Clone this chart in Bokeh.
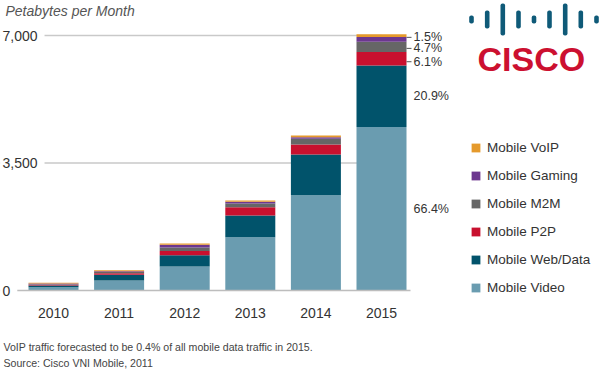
from bokeh.plotting import figure
from bokeh.models import (Range1d, Legend, LegendItem, Label,
                          BoxAnnotation, ColumnDataSource)
from bokeh.core.properties import value
from bokeh.embed import file_html
from bokeh.resources import INLINE

# ---------------- data ----------------
years = [2010, 2011, 2012, 2013, 2014, 2015]
mobile_video = [91, 275, 660, 1464, 2616, 4485]
mobile_web_data = [46, 156, 311, 595, 1117, 1694]
mobile_p2p = [22, 45, 110, 229, 275, 366]
mobile_m2m = [15, 30, 101, 100, 156, 285]
mobile_gaming = [18, 25, 73, 46, 46, 128]
mobile_voip = [20, 27, 37, 37, 46, 73]
series_names = ["Mobile Video", "Mobile Web/Data", "Mobile P2P",
                "Mobile M2M", "Mobile Gaming", "Mobile VoIP"]
share_2015 = ["66.4%", "20.9%", "6.1%", "4.7%", "1.5%", ""]
y_ticks = [0, 3500, 7000]

# ---------------- styles / layout ----------------
colors = ["#6A9CB0", "#01536B", "#C8102E", "#666666", "#6C378F", "#E59A2C"]
FONT = "Liberation Sans"
W, H = 600, 369
BASE_PX = 290              # canvas row of y = 0
TOP_PX = 35                # canvas row of y = 7000
K = (BASE_PX - TOP_PX) / 7000.0
PX_YEAR = 65.6
FIRST_X_PX = 53
y_start = -(H - BASE_PX) / K
y_end = 7000 + TOP_PX / K
x_start = years[0] - FIRST_X_PX / PX_YEAR
x_end = x_start + W / PX_YEAR
bar_w = 50 / PX_YEAR
label_nudge = [0, 0, -82, -41, 55, 0]   # data-unit nudges to keep small labels apart

p = figure(width=W, height=H, title=None,
           x_range=Range1d(x_start, x_end), y_range=Range1d(y_start, y_end),
           output_backend="svg", toolbar_location=None,
           x_axis_location=None, y_axis_location=None, min_border=0)
p.outline_line_color = None
p.grid.visible = False
p.background_fill_color = "white"

# gridlines
grid_vals = [v for v in y_ticks if v != 0]
p.segment(x0=[x_start] * len(grid_vals), x1=[years[-1]] * len(grid_vals),
          y0=grid_vals, y1=grid_vals, line_color="#C9C9C9", line_width=1.5)

# stacked bars
src = ColumnDataSource(dict(years=years, video=mobile_video, web=mobile_web_data,
                            p2p=mobile_p2p, m2m=mobile_m2m, gaming=mobile_gaming,
                            voip=mobile_voip))
keys = ["video", "web", "p2p", "m2m", "gaming", "voip"]
rends = p.vbar_stack(keys, x="years", width=bar_w, source=src,
                     color=colors, line_color=None)

# baseline
p.segment(x0=[x_start], x1=[years[-1] + bar_w / 2 + 4 / PX_YEAR], y0=[0], y1=[0],
          line_color="#BDBDBD", line_width=1.5)

# year labels
p.text(x=years, y=[0] * len(years), text=[str(y) for y in years], y_offset=22,
       text_align="center", text_baseline="middle", text_font=value(FONT),
       text_font_size="14px", text_color="#333333")

# y tick labels (white box hides the gridline start)
PAD = 7
for v in y_ticks:
    p.add_layout(Label(x=2 - PAD, y=v, x_units="screen", y_units="data",
                       text=f"{v:,}", text_font=FONT, text_font_size="14px",
                       text_color="#333333", text_baseline="middle",
                       text_align="left", background_fill_color="white",
                       padding=PAD))

# share labels for 2015
vals_2015 = [s[-1] for s in [mobile_video, mobile_web_data, mobile_p2p,
                             mobile_m2m, mobile_gaming, mobile_voip]]
mids = []
acc = 0
for v in vals_2015:
    mids.append(acc + v / 2)
    acc += v
lab_y = [m + n for m, n in zip(mids, label_nudge)]
idx = [i for i, t in enumerate(share_2015) if t]
p.text(x=[years[-1]] * len(idx), y=[lab_y[i] for i in idx],
       text=[share_2015[i] for i in idx], x_offset=32,
       text_baseline="middle", text_align="left",
       text_font=value(FONT), text_font_size="12.5px", text_color="#333333")
small = [i for i in idx if vals_2015[i] / acc < 0.1]
p.ray(x=[years[-1] + bar_w / 2] * len(small), y=[lab_y[i] for i in small],
      length=5, length_units="screen", angle=0, line_color="#555555", line_width=1)

# title
p.add_layout(Label(x=5, y=H - 2, x_units="screen", y_units="screen",
                   text="Petabytes per Month", text_font=FONT,
                   text_font_style="italic", text_font_size="14px",
                   text_color="#555555", text_baseline="top"))

# footnotes
p.add_layout(Label(x=3, y=H - 346, x_units="screen", y_units="screen",
                   text="VoIP traffic forecasted to be 0.4% of all mobile data traffic in 2015.",
                   text_font=FONT, text_font_size="10.6px", text_color="#444444",
                   text_baseline="middle"))
p.add_layout(Label(x=3, y=H - 362, x_units="screen", y_units="screen",
                   text="Source: Cisco VNI Mobile, 2011",
                   text_font=FONT, text_font_size="10.6px", text_color="#444444",
                   text_baseline="middle"))

# legend
items = [LegendItem(label=series_names[i], renderers=[rends[i]])
         for i in reversed(range(len(rends)))]
legend = Legend(items=items, location=(470, H - 297), orientation="vertical",
                glyph_width=11, glyph_height=11, label_standoff=6,
                label_height=20, spacing=8, padding=0, margin=0,
                label_text_font=FONT, label_text_font_size="13.5px",
                label_text_color="#333333", border_line_color=None,
                background_fill_alpha=0)
p.add_layout(legend)

# Cisco logo
logo_x = [471, 486.7, 502.3, 518, 533.5, 549, 564.7, 580.3, 596]
logo_h = [8, 18, 32, 18, 8, 18, 32, 18, 8]
logo_cy = H - 19
for cx, hh in zip(logo_x, logo_h):
    p.add_layout(BoxAnnotation(left=cx - 2.3, right=cx + 2.3,
                               bottom=logo_cy - hh / 2, top=logo_cy + hh / 2,
                               left_units="screen", right_units="screen",
                               bottom_units="screen", top_units="screen",
                               fill_color="#0F5A78", fill_alpha=1,
                               line_color=None, border_radius=2))
p.add_layout(Label(x=477, y=H - 58, x_units="screen", y_units="screen",
                   text="CISCO", text_font=FONT, text_font_style="bold",
                   text_font_size="34px", text_color="#CC1030",
                   text_baseline="middle"))

open("out.html", "w").write(file_html(p, INLINE))
